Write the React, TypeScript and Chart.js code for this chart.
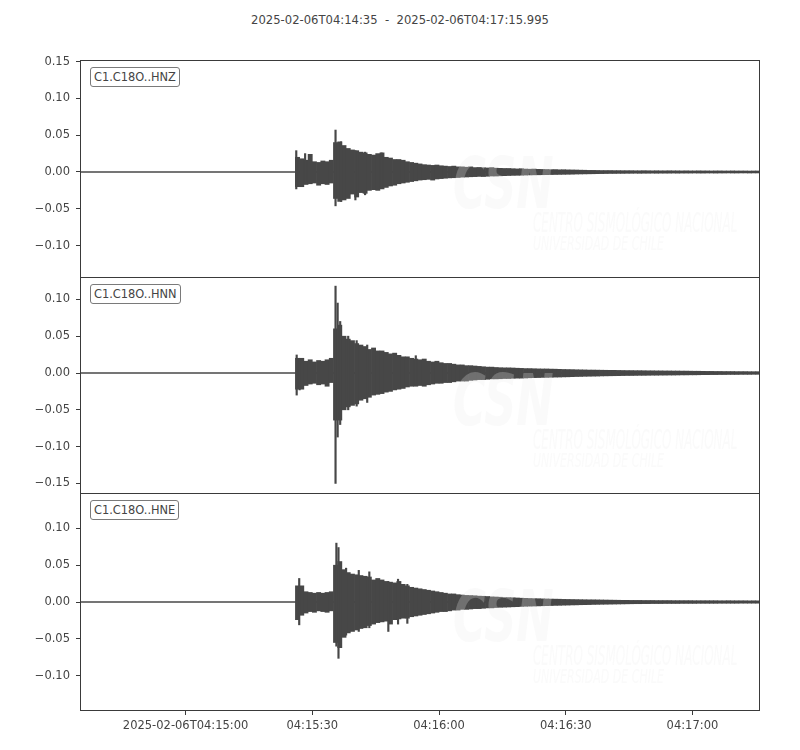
import React, { useEffect, useRef } from "react";
import { Chart, registerables } from "chart.js";

Chart.register(...registerables);

// ---------------- data ----------------
const TITLE = "2025-02-06T04:14:35  -  2025-02-06T04:17:15.995";
const DURATION = 160.995; // seconds after 04:14:35
const X_TICK_SECONDS = [25, 55, 85, 115, 145];
const X_TICK_LABELS = ["2025-02-06T04:15:00", "04:15:30", "04:16:00", "04:16:30", "04:17:00"];
const TRACE_NAMES = ["C1.C18O..HNZ", "C1.C18O..HNN", "C1.C18O..HNE"];

const BIN_START = 51; // first envelope bin (s)
const BIN_WIDTH = 1; // s
const BASELINE_T = [0, 160.995];
const BASELINE_V = [0, 0];

const HNZ_UPPER = [
  0.020, 0.018, 0.016, 0.024, 0.014, 0.013, 0.015, 0.014, 0.016, 0.040,
  0.041, 0.036, 0.032, 0.030, 0.029, 0.027, 0.026, 0.024, 0.023, 0.025,
  0.026, 0.020, 0.019, 0.017, 0.017, 0.016, 0.014, 0.013, 0.012, 0.011,
  0.010, 0.0095, 0.009, 0.0095, 0.0085, 0.008, 0.0075, 0.008, 0.007, 0.007,
  0.0065, 0.007, 0.006, 0.0062, 0.0058, 0.0055, 0.006, 0.0052, 0.005, 0.0048,
  0.0048, 0.0045, 0.0042, 0.0045, 0.004, 0.0038, 0.004, 0.0036, 0.0035, 0.0034,
  0.0032, 0.0033, 0.003, 0.0031, 0.0029, 0.0028, 0.0027, 0.0025, 0.0024, 0.0022,
  0.0022, 0.0021, 0.002, 0.002, 0.002, 0.0019, 0.0019, 0.0018, 0.0018, 0.0018,
  0.0017, 0.0017, 0.0018, 0.0017, 0.0016, 0.0017, 0.0016, 0.0016, 0.0017, 0.0016,
  0.0016, 0.0015, 0.0016, 0.0015, 0.0015, 0.0016, 0.0015, 0.0015, 0.0014, 0.0015,
  0.0015, 0.0014, 0.0014, 0.0015, 0.0014, 0.0014, 0.0014, 0.0013, 0.0014, 0.0014,
];
const HNZ_LOWER = [
  -0.020, -0.020, -0.017, -0.016, -0.015, -0.018, -0.016, -0.017, -0.015, -0.036,
  -0.040, -0.038, -0.036, -0.030, -0.034, -0.028, -0.029, -0.025, -0.024, -0.025,
  -0.023, -0.021, -0.019, -0.018, -0.016, -0.015, -0.014, -0.013, -0.012, -0.011,
  -0.0105, -0.010, -0.011, -0.0095, -0.009, -0.0085, -0.008, -0.0078, -0.0075, -0.007,
  -0.0068, -0.0065, -0.0063, -0.006, -0.0062, -0.0058, -0.0055, -0.0055, -0.0052, -0.005,
  -0.0048, -0.0046, -0.0045, -0.0044, -0.0042, -0.004, -0.0039, -0.0038, -0.0037, -0.0036,
  -0.0035, -0.0034, -0.0033, -0.0032, -0.0031, -0.003, -0.0028, -0.0027, -0.0026, -0.0025,
  -0.0024, -0.0023, -0.0022, -0.0021, -0.002, -0.002, -0.0019, -0.0019, -0.0018, -0.0018,
  -0.0017, -0.0018, -0.0017, -0.0017, -0.0016, -0.0017, -0.0016, -0.0016, -0.0016, -0.0015,
  -0.0016, -0.0015, -0.0015, -0.0015, -0.0014, -0.0015, -0.0015, -0.0014, -0.0014, -0.0015,
  -0.0014, -0.0014, -0.0013, -0.0014, -0.0014, -0.0013, -0.0013, -0.0014, -0.0013, -0.0013,
];
const HNZ_SPIKE_T = [51.2, 53.3, 60.5, 61.8, 62.7, 65.2, 67.5, 71.4];
const HNZ_SPIKE_LO = [-0.023, -0.012, -0.046, -0.040, -0.037, -0.038, -0.031, -0.022];
const HNZ_SPIKE_HI = [0.029, 0.025, 0.057, 0.041, 0.033, 0.029, 0.027, 0.026];

const HNN_UPPER = [
  0.020, 0.020, 0.016, 0.018, 0.015, 0.017, 0.016, 0.018, 0.020, 0.060,
  0.065, 0.050, 0.046, 0.044, 0.040, 0.038, 0.036, 0.032, 0.034, 0.030,
  0.030, 0.028, 0.026, 0.027, 0.024, 0.022, 0.022, 0.020, 0.019, 0.018,
  0.019, 0.016, 0.015, 0.016, 0.014, 0.013, 0.013, 0.012, 0.011, 0.011,
  0.010, 0.010, 0.0095, 0.009, 0.0085, 0.008, 0.008, 0.0075, 0.0072, 0.007,
  0.007, 0.0068, 0.0065, 0.0063, 0.006, 0.006, 0.0058, 0.0056, 0.0055, 0.0055,
  0.0053, 0.0052, 0.005, 0.0048, 0.0047, 0.0046, 0.0044, 0.0043, 0.0042, 0.004,
  0.004, 0.0039, 0.0038, 0.0037, 0.0036, 0.0036, 0.0035, 0.0034, 0.0033, 0.0033,
  0.0032, 0.0032, 0.0031, 0.003, 0.003, 0.0029, 0.0029, 0.0028, 0.0028, 0.0027,
  0.0027, 0.0026, 0.0026, 0.0025, 0.0024, 0.0024, 0.0023, 0.0022, 0.0022, 0.0021,
  0.0021, 0.002, 0.002, 0.002, 0.0019, 0.0019, 0.0019, 0.0018, 0.0018, 0.0018,
];
const HNN_LOWER = [
  -0.022, -0.022, -0.017, -0.015, -0.014, -0.016, -0.015, -0.018, -0.013, -0.064,
  -0.064, -0.050, -0.046, -0.044, -0.042, -0.037, -0.035, -0.033, -0.030, -0.029,
  -0.028, -0.026, -0.025, -0.023, -0.022, -0.021, -0.019, -0.018, -0.018, -0.017,
  -0.018, -0.016, -0.015, -0.014, -0.014, -0.013, -0.013, -0.012, -0.011, -0.011,
  -0.011, -0.010, -0.0095, -0.009, -0.009, -0.0085, -0.008, -0.008, -0.0078, -0.0075,
  -0.0075, -0.0072, -0.007, -0.007, -0.0068, -0.0065, -0.0063, -0.0062, -0.006, -0.006,
  -0.0058, -0.0056, -0.0055, -0.0053, -0.0052, -0.005, -0.0048, -0.0047, -0.0045, -0.0044,
  -0.0043, -0.0042, -0.004, -0.0039, -0.0038, -0.0037, -0.0036, -0.0035, -0.0034, -0.0034,
  -0.0033, -0.0032, -0.0032, -0.0031, -0.003, -0.003, -0.0029, -0.0029, -0.0028, -0.0028,
  -0.0027, -0.0026, -0.0026, -0.0025, -0.0025, -0.0024, -0.0023, -0.0023, -0.0022, -0.0022,
  -0.0021, -0.0021, -0.002, -0.002, -0.002, -0.0019, -0.0019, -0.0019, -0.0018, -0.0018,
];
const HNN_SPIKE_T = [51.3, 52.0, 60.5, 61.0, 61.6, 63.5, 65.5, 68.0, 79.5];
const HNN_SPIKE_LO = [-0.030, -0.023, -0.150, -0.087, -0.070, -0.050, -0.045, -0.040, -0.015];
const HNN_SPIKE_HI = [0.0245, 0.018, 0.118, 0.095, 0.070, 0.050, 0.044, 0.038, 0.0235];

const HNE_UPPER = [
  0.022, 0.022, 0.014, 0.013, 0.012, 0.013, 0.012, 0.013, 0.014, 0.050,
  0.055, 0.044, 0.040, 0.038, 0.037, 0.036, 0.035, 0.034, 0.030, 0.032,
  0.030, 0.028, 0.027, 0.026, 0.028, 0.024, 0.022, 0.020, 0.019, 0.018,
  0.017, 0.016, 0.015, 0.014, 0.013, 0.012, 0.011, 0.011, 0.010, 0.0095,
  0.009, 0.0088, 0.0085, 0.008, 0.0078, 0.0075, 0.007, 0.0068, 0.0065, 0.006,
  0.006, 0.0058, 0.0055, 0.0052, 0.005, 0.0048, 0.0046, 0.0045, 0.0043, 0.0042,
  0.004, 0.0039, 0.0038, 0.0036, 0.0035, 0.0034, 0.0033, 0.0032, 0.0031, 0.003,
  0.003, 0.0029, 0.0028, 0.0027, 0.0026, 0.0025, 0.0024, 0.0023, 0.0023, 0.0022,
  0.0022, 0.0022, 0.0021, 0.0021, 0.0021, 0.002, 0.002, 0.002, 0.002, 0.0019,
  0.0019, 0.0019, 0.0019, 0.0019, 0.0018, 0.0018, 0.0018, 0.0018, 0.0018, 0.0018,
  0.0017, 0.0017, 0.0018, 0.0017, 0.0017, 0.0017, 0.0017, 0.0016, 0.0017, 0.0016,
];
const HNE_LOWER = [
  -0.024, -0.018, -0.015, -0.013, -0.014, -0.012, -0.013, -0.014, -0.012, -0.055,
  -0.062, -0.048, -0.042, -0.040, -0.038, -0.036, -0.035, -0.032, -0.030, -0.028,
  -0.027, -0.026, -0.030, -0.024, -0.023, -0.022, -0.022, -0.020, -0.019, -0.018,
  -0.017, -0.016, -0.015, -0.014, -0.013, -0.013, -0.012, -0.011, -0.011, -0.010,
  -0.010, -0.0095, -0.009, -0.009, -0.0085, -0.008, -0.008, -0.0075, -0.0072, -0.007,
  -0.0068, -0.0065, -0.0063, -0.006, -0.0058, -0.0056, -0.0055, -0.0053, -0.0051, -0.005,
  -0.0048, -0.0046, -0.0045, -0.0043, -0.0042, -0.004, -0.0039, -0.0037, -0.0036, -0.0035,
  -0.0033, -0.0032, -0.0031, -0.003, -0.0029, -0.0028, -0.0027, -0.0026, -0.0025, -0.0024,
  -0.0023, -0.0023, -0.0022, -0.0022, -0.0021, -0.0021, -0.0021, -0.002, -0.002, -0.002,
  -0.002, -0.0019, -0.0019, -0.0019, -0.0019, -0.0018, -0.0018, -0.0018, -0.0018, -0.0018,
  -0.0017, -0.0017, -0.0017, -0.0017, -0.0017, -0.0016, -0.0016, -0.0016, -0.0016, -0.0016,
];
const HNE_SPIKE_T = [51.9, 60.7, 61.2, 63.0, 66.0, 68.5, 73.0, 75.3, 77.5];
const HNE_SPIKE_LO = [-0.031, -0.060, -0.0765, -0.045, -0.040, -0.035, -0.040, -0.030, -0.029];
const HNE_SPIKE_HI = [0.032, 0.080, 0.074, 0.046, 0.043, 0.041, 0.028, 0.031, 0.024];

const Y_MIN = [-0.1427, -0.163, -0.1467];
const Y_MAX = [0.1522, 0.1304, 0.1481];
const Y_TICKS_HNZ = [-0.1, -0.05, 0, 0.05, 0.1, 0.15];
const Y_TICKS_HNN = [-0.15, -0.1, -0.05, 0, 0.05, 0.1];
const Y_TICKS_HNE = [-0.1, -0.05, 0, 0.05, 0.1];

// ---------------- layout / style ----------------
const FONT = "'DejaVu Sans', sans-serif";
const FONT_SIZE = 11.5;
const TEXT_COLOR = "#444444";
const AXIS_COLOR = "#3a3a3a";
const WAVE_COLOR = "#474747";
const PLOT_LEFT = 80;
const PLOT_RIGHT = 760;
const PAGE_W = 800;
const PANEL_TOPS = [60, 277, 493];
const PANEL_HEIGHTS = [217, 216, 217];
const PAD = 24;
const XAXIS_H = 30;

const TRACES = [
  { upper: HNZ_UPPER, lower: HNZ_LOWER, st: HNZ_SPIKE_T, slo: HNZ_SPIKE_LO, shi: HNZ_SPIKE_HI, ticks: Y_TICKS_HNZ },
  { upper: HNN_UPPER, lower: HNN_LOWER, st: HNN_SPIKE_T, slo: HNN_SPIKE_LO, shi: HNN_SPIKE_HI, ticks: Y_TICKS_HNN },
  { upper: HNE_UPPER, lower: HNE_LOWER, st: HNE_SPIKE_T, slo: HNE_SPIKE_LO, shi: HNE_SPIKE_HI, ticks: Y_TICKS_HNE },
];

const boxPlugin = {
  id: "frameBox",
  afterDraw(chart: any) {
    const { ctx, chartArea } = chart;
    ctx.save();
    ctx.strokeStyle = AXIS_COLOR;
    ctx.lineWidth = 1;
    ctx.strokeRect(
      chartArea.left + 0.5,
      chartArea.top + 0.5,
      chartArea.right - chartArea.left - 1,
      chartArea.bottom - chartArea.top
    );
    ctx.restore();
  },
};

function fmtY(v: number) {
  const s = Math.abs(v).toFixed(2);
  return v < -1e-9 ? "\u2212" + s : s;
}

function Panel({ index }: { index: number }) {
  const ref = useRef<HTMLCanvasElement | null>(null);
  const showX = index === 2;
  const h = PANEL_HEIGHTS[index] + PAD + (showX ? XAXIS_H : PAD);

  useEffect(() => {
    const tr = TRACES[index];
    const envelope = tr.upper.map((u, i) => ({
      x: BIN_START + i * BIN_WIDTH + BIN_WIDTH / 2,
      y: [tr.lower[i], u],
    }));
    const spikes = tr.st.map((t, i) => ({ x: t, y: [tr.slo[i], tr.shi[i]] }));
    const baseline = BASELINE_T.map((t, i) => ({ x: t, y: BASELINE_V[i] }));
    const binPx = ((PLOT_RIGHT - PLOT_LEFT) / DURATION) * BIN_WIDTH;

    const chart = new Chart(ref.current as HTMLCanvasElement, {
      type: "bar",
      data: {
        datasets: [
          {
            type: "line",
            data: baseline as any,
            borderColor: WAVE_COLOR,
            borderWidth: 1.3,
            pointRadius: 0,
            order: 3,
          } as any,
          {
            type: "bar",
            data: envelope as any,
            backgroundColor: WAVE_COLOR,
            borderWidth: 0,
            barThickness: binPx,
            grouped: false,
            order: 2,
          } as any,
          {
            type: "bar",
            data: spikes as any,
            backgroundColor: WAVE_COLOR,
            borderWidth: 0,
            barThickness: 1.5,
            grouped: false,
            order: 1,
          } as any,
        ],
      },
      options: {
        animation: false,
        responsive: false,
        maintainAspectRatio: false,
        events: [],
        layout: { padding: { left: 0, right: PAGE_W - PLOT_RIGHT, top: PAD, bottom: showX ? 0 : PAD } },
        plugins: { legend: { display: false }, tooltip: { enabled: false } },
        scales: {
          x: {
            type: "linear",
            min: 0,
            max: DURATION,
            offset: false,
            display: showX,
            grid: { drawOnChartArea: false, offset: false, tickLength: 5, color: AXIS_COLOR },
            border: { display: false },
            ticks: {
              color: TEXT_COLOR,
              font: { family: FONT, size: FONT_SIZE },
              padding: 4,
              maxRotation: 0,
              autoSkip: false,
              callback: (_v: any, i: number) => X_TICK_LABELS[i],
            },
            afterBuildTicks: (s: any) => {
              s.ticks = X_TICK_SECONDS.map((v) => ({ value: v }));
            },
            afterFit: (s: any) => {
              s.height = showX ? XAXIS_H : 0;
            },
          },
          y: {
            type: "linear",
            min: Y_MIN[index],
            max: Y_MAX[index],
            grid: { drawOnChartArea: false, tickLength: 4, color: AXIS_COLOR },
            border: { display: false },
            ticks: {
              color: TEXT_COLOR,
              font: { family: FONT, size: FONT_SIZE },
              padding: 6,
              autoSkip: false,
              callback: (v: any) => fmtY(Number(v)),
            },
            afterBuildTicks: (s: any) => {
              s.ticks = tr.ticks.map((v) => ({ value: v }));
            },
            afterFit: (s: any) => {
              s.width = PLOT_LEFT;
            },
          },
        },
      } as any,
      plugins: [boxPlugin],
    });
    return () => chart.destroy();
  }, [index]);

  return (
    <canvas
      ref={ref}
      width={PAGE_W}
      height={h}
      style={{ position: "absolute", left: 0, top: PANEL_TOPS[index] - PAD, width: PAGE_W, height: h }}
    />
  );
}

function Watermark({ top }: { top: number }) {
  const col = "rgba(236,236,236,0.25)";
  const base: React.CSSProperties = {
    position: "absolute",
    whiteSpace: "nowrap",
    fontFamily: FONT,
    fontStyle: "italic",
    color: col,
    lineHeight: 1,
    transformOrigin: "left top",
    pointerEvents: "none",
  };
  return (
    <>
      <div style={{ ...base, left: 453, top: top + 87, fontSize: 72, fontWeight: "bold", transform: "scaleX(0.62)" }}>CSN</div>
      <div style={{ ...base, left: 533, top: top + 150, fontSize: 26, transform: "scaleX(0.46)" }}>
        CENTRO SISMOLÓGICO NACIONAL
      </div>
      <div style={{ ...base, left: 533, top: top + 173, fontSize: 20, transform: "scaleX(0.55)" }}>
        UNIVERSIDAD DE CHILE
      </div>
    </>
  );
}

export default function App() {
  return (
    <div
      style={{
        position: "absolute",
        left: 0,
        top: 0,
        width: 800,
        height: 750,
        background: "#ffffff",
        overflow: "hidden",
      }}
    >
      <div
        style={{
          position: "absolute",
          left: 0,
          top: 13,
          width: 800,
          textAlign: "center",
          fontFamily: FONT,
          fontSize: 11.6,
          lineHeight: "14px",
          color: TEXT_COLOR,
          whiteSpace: "pre",
        }}
      >
        {TITLE}
      </div>
      {[0, 1, 2].map((i) => (
        <Panel key={"p" + i} index={i} />
      ))}
      {PANEL_TOPS.map((t, i) => (
        <Watermark key={"w" + i} top={t} />
      ))}
      {TRACE_NAMES.map((name, i) => (
        <div
          key={"l" + i}
          style={{
            position: "absolute",
            left: 90,
            top: PANEL_TOPS[i] + 7,
            height: 18,
            lineHeight: "18px",
            padding: "0 3px",
            border: "1px solid #7a7a7a",
            borderRadius: 3,
            background: "#ffffff",
            fontFamily: FONT,
            fontSize: 11.4,
            color: TEXT_COLOR,
            whiteSpace: "nowrap",
          }}
        >
          {name}
        </div>
      ))}
    </div>
  );
}
